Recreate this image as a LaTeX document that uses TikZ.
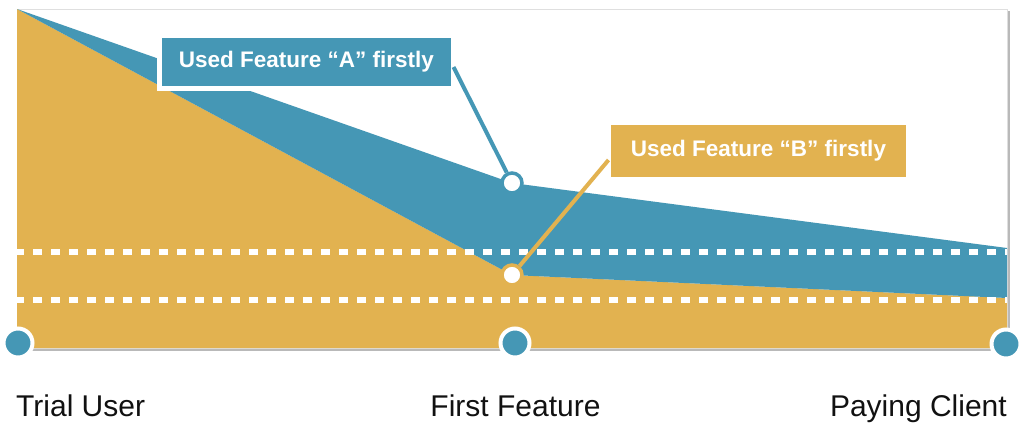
\documentclass[tikz,border=0pt]{standalone}
\usepackage{fontspec}
\setmainfont{Liberation Sans}
\usetikzlibrary{calc}
\definecolor{teal1}{HTML}{4597B5}
\definecolor{gold1}{HTML}{E2B250}
\definecolor{txt}{HTML}{111111}
\begin{document}
\begin{tikzpicture}[x=1pt,y=-1pt,
  lbl/.style={font=\fontsize{30}{36}\selectfont, text=txt, inner sep=0pt},
  tag/.style={font=\fontsize{22.5}{27}\selectfont\bfseries, text=white, inner sep=0pt, draw=white, line width=5pt, outer sep=0pt},
  ring/.style={circle, draw=white, line width=4pt, fill=teal1, minimum size=29pt, inner sep=0pt},
  dotmark/.style={circle, fill=white, line width=3.5pt, minimum size=20pt, inner sep=0pt},
  guide/.style={draw=white, line width=6pt, dash pattern=on 9pt off 9pt, dash phase=2pt},
  conn/.style={line width=4pt}
]
\useasboundingbox (0,0) rectangle (1024,423);
% frame with shadow
\fill[gray!55] (19,11) rectangle (1010,351);
\draw[gray!25, fill=white, line width=1pt] (17,9) rectangle (1007,348);
% areas
\fill[gold1] (17,9) -- (512,275) -- (1007,298) -- (1007,348) -- (17,348) -- cycle;
\fill[teal1] (17,9) -- (512,183) -- (1007,248) -- (1007,298) -- (512,275) -- cycle;
% dashed guides
\begin{scope}
\clip (17,9) rectangle (1007,348);
\draw[guide] (17,252) -- (1007,252);
\draw[guide] (17,300) -- (1007,300);
\end{scope}
% tags
\node[tag, fill=teal1, minimum width=294pt, minimum height=53pt] (boxA) at (306.5,62) {Used Feature “A” firstly};
\node[tag, fill=gold1, minimum width=300pt, minimum height=57pt] (boxB) at (758.5,151) {Used Feature “B” firstly};
% markers
\node[dotmark, draw=teal1] (ma) at (512,183) {};
\node[dotmark, draw=gold1] (mb) at (512,275) {};
\draw[conn, teal1] ($(boxA.east)+(0,5)$) -- (ma);
\draw[conn, gold1] ($(boxB.west)+(0,9)$) -- (mb);
% stage circles
\node[ring] (n1) at (18,343) {};
\node[ring] (n2) at (515,343) {};
\node[ring] (n3) at (1006,344) {};
% labels
\node[lbl, anchor=base west] (t1) at (16,416) {Trial User};
\node[lbl, anchor=base] (t2) at (515.5,416) {First Feature};
\node[lbl, anchor=base east] (t3) at (1007,416) {Paying Client};
\end{tikzpicture}
\end{document}
